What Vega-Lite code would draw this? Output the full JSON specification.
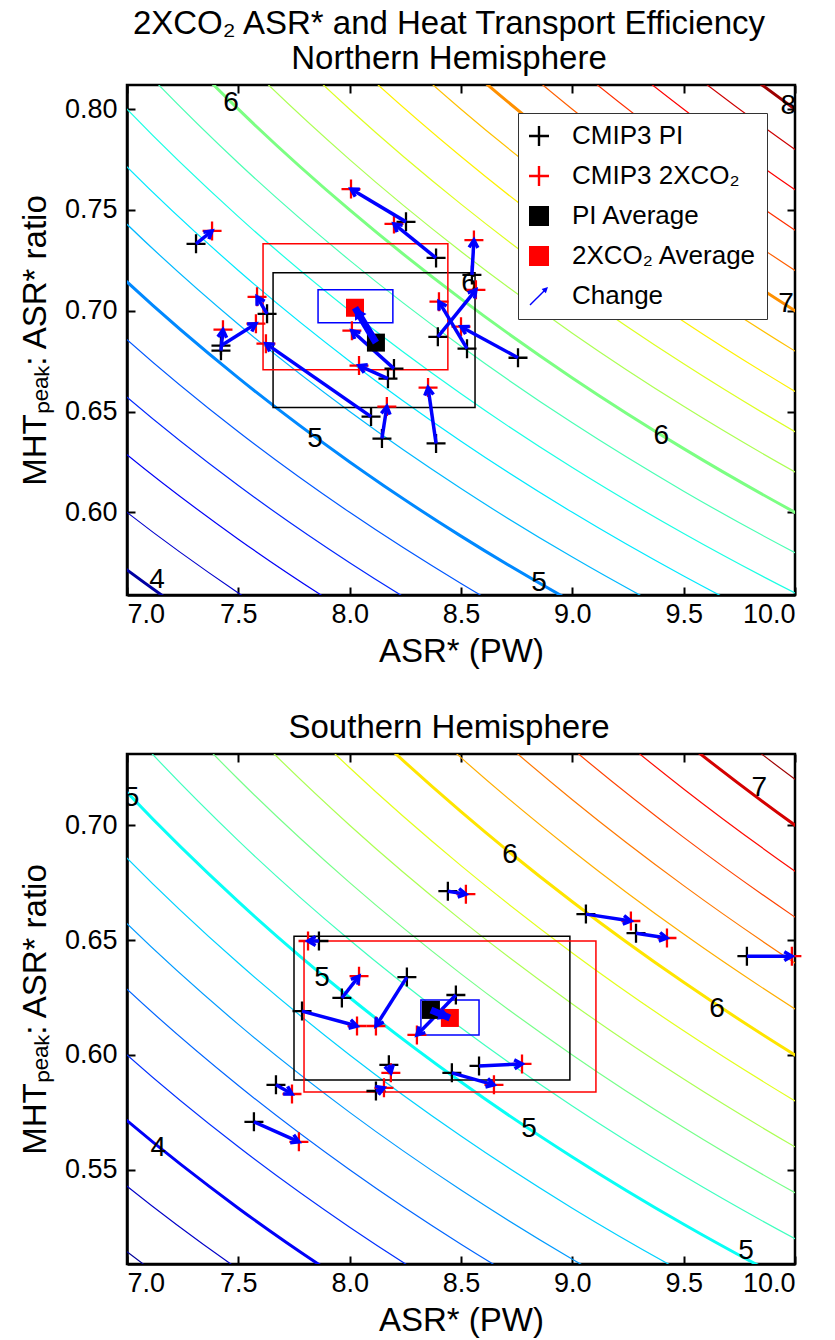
{
  "$schema": "https://vega.github.io/schema/vega-lite/v6.json",
  "padding": {"left": 18, "top": 6, "right": 10, "bottom": 2},
  "config": {
    "font": "Liberation Sans",
    "view": {"stroke": "black", "strokeWidth": 2.5},
    "axis": {"labelFontSize": 27, "titleFontSize": 33, "labelColor": "black", "titleColor": "black", "domainColor": "black", "domainWidth": 2.5, "tickColor": "black", "tickWidth": 2, "tickSize": -8, "grid": false, "labelFont": "Liberation Sans", "titleFont": "Liberation Sans", "titleFontWeight": "normal"},
    "title": {"fontSize": 33, "fontWeight": "normal", "font": "Liberation Sans", "color": "black"},
    "legend": {"orient": "top-right", "offset": 28, "labelFontSize": 26, "labelLimit": 400, "labelFont": "Liberation Sans", "labelColor": "black", "symbolSize": 400, "symbolStrokeWidth": 0, "symbolOpacity": 1, "fillColor": "white", "strokeColor": "#333333", "padding": 10, "rowPadding": 14, "labelOffset": 20, "symbolOffset": -2},
    "concat": {"spacing": 40}
  },
  "datasets": {
    "contours": [
      {"level":3.6,"x":6.5,"y":0.5538},{"level":3.6,"x":7,"y":0.5143},{"level":3.6,"x":7.5,"y":0.48},{"level":3.6,"x":8,"y":0.45},{"level":3.6,"x":8.5,"y":0.4235},{"level":3.6,"x":9,"y":0.4},{"level":3.6,"x":9.5,"y":0.3789},{"level":3.6,"x":10,"y":0.36},{"level":3.6,"x":10.5,"y":0.3429},
      {"level":3.8,"x":6.5,"y":0.5846},{"level":3.8,"x":7,"y":0.5429},{"level":3.8,"x":7.5,"y":0.5067},{"level":3.8,"x":8,"y":0.475},{"level":3.8,"x":8.5,"y":0.4471},{"level":3.8,"x":9,"y":0.4222},{"level":3.8,"x":9.5,"y":0.4},{"level":3.8,"x":10,"y":0.38},{"level":3.8,"x":10.5,"y":0.3619},
      {"level":4,"x":6.5,"y":0.6154},{"level":4,"x":7,"y":0.5714},{"level":4,"x":7.5,"y":0.5333},{"level":4,"x":8,"y":0.5},{"level":4,"x":8.5,"y":0.4706},{"level":4,"x":9,"y":0.4444},{"level":4,"x":9.5,"y":0.4211},{"level":4,"x":10,"y":0.4},{"level":4,"x":10.5,"y":0.381},
      {"level":4.2,"x":6.5,"y":0.6462},{"level":4.2,"x":7,"y":0.6},{"level":4.2,"x":7.5,"y":0.56},{"level":4.2,"x":8,"y":0.525},{"level":4.2,"x":8.5,"y":0.4941},{"level":4.2,"x":9,"y":0.4667},{"level":4.2,"x":9.5,"y":0.4421},{"level":4.2,"x":10,"y":0.42},{"level":4.2,"x":10.5,"y":0.4},
      {"level":4.4,"x":6.5,"y":0.6769},{"level":4.4,"x":7,"y":0.6286},{"level":4.4,"x":7.5,"y":0.5867},{"level":4.4,"x":8,"y":0.55},{"level":4.4,"x":8.5,"y":0.5176},{"level":4.4,"x":9,"y":0.4889},{"level":4.4,"x":9.5,"y":0.4632},{"level":4.4,"x":10,"y":0.44},{"level":4.4,"x":10.5,"y":0.419},
      {"level":4.6,"x":6.5,"y":0.7077},{"level":4.6,"x":7,"y":0.6571},{"level":4.6,"x":7.5,"y":0.6133},{"level":4.6,"x":8,"y":0.575},{"level":4.6,"x":8.5,"y":0.5412},{"level":4.6,"x":9,"y":0.5111},{"level":4.6,"x":9.5,"y":0.4842},{"level":4.6,"x":10,"y":0.46},{"level":4.6,"x":10.5,"y":0.4381},
      {"level":4.8,"x":6.5,"y":0.7385},{"level":4.8,"x":7,"y":0.6857},{"level":4.8,"x":7.5,"y":0.64},{"level":4.8,"x":8,"y":0.6},{"level":4.8,"x":8.5,"y":0.5647},{"level":4.8,"x":9,"y":0.5333},{"level":4.8,"x":9.5,"y":0.5053},{"level":4.8,"x":10,"y":0.48},{"level":4.8,"x":10.5,"y":0.4571},
      {"level":5,"x":6.5,"y":0.7692},{"level":5,"x":7,"y":0.7143},{"level":5,"x":7.5,"y":0.6667},{"level":5,"x":8,"y":0.625},{"level":5,"x":8.5,"y":0.5882},{"level":5,"x":9,"y":0.5556},{"level":5,"x":9.5,"y":0.5263},{"level":5,"x":10,"y":0.5},{"level":5,"x":10.5,"y":0.4762},
      {"level":5.2,"x":6.5,"y":0.8},{"level":5.2,"x":7,"y":0.7429},{"level":5.2,"x":7.5,"y":0.6933},{"level":5.2,"x":8,"y":0.65},{"level":5.2,"x":8.5,"y":0.6118},{"level":5.2,"x":9,"y":0.5778},{"level":5.2,"x":9.5,"y":0.5474},{"level":5.2,"x":10,"y":0.52},{"level":5.2,"x":10.5,"y":0.4952},
      {"level":5.4,"x":6.5,"y":0.8308},{"level":5.4,"x":7,"y":0.7714},{"level":5.4,"x":7.5,"y":0.72},{"level":5.4,"x":8,"y":0.675},{"level":5.4,"x":8.5,"y":0.6353},{"level":5.4,"x":9,"y":0.6},{"level":5.4,"x":9.5,"y":0.5684},{"level":5.4,"x":10,"y":0.54},{"level":5.4,"x":10.5,"y":0.5143},
      {"level":5.6,"x":6.5,"y":0.8615},{"level":5.6,"x":7,"y":0.8},{"level":5.6,"x":7.5,"y":0.7467},{"level":5.6,"x":8,"y":0.7},{"level":5.6,"x":8.5,"y":0.6588},{"level":5.6,"x":9,"y":0.6222},{"level":5.6,"x":9.5,"y":0.5895},{"level":5.6,"x":10,"y":0.56},{"level":5.6,"x":10.5,"y":0.5333},
      {"level":5.8,"x":6.5,"y":0.8923},{"level":5.8,"x":7,"y":0.8286},{"level":5.8,"x":7.5,"y":0.7733},{"level":5.8,"x":8,"y":0.725},{"level":5.8,"x":8.5,"y":0.6824},{"level":5.8,"x":9,"y":0.6444},{"level":5.8,"x":9.5,"y":0.6105},{"level":5.8,"x":10,"y":0.58},{"level":5.8,"x":10.5,"y":0.5524},
      {"level":6,"x":6.5,"y":0.9231},{"level":6,"x":7,"y":0.8571},{"level":6,"x":7.5,"y":0.8},{"level":6,"x":8,"y":0.75},{"level":6,"x":8.5,"y":0.7059},{"level":6,"x":9,"y":0.6667},{"level":6,"x":9.5,"y":0.6316},{"level":6,"x":10,"y":0.6},{"level":6,"x":10.5,"y":0.5714},
      {"level":6.2,"x":6.5,"y":0.9538},{"level":6.2,"x":7,"y":0.8857},{"level":6.2,"x":7.5,"y":0.8267},{"level":6.2,"x":8,"y":0.775},{"level":6.2,"x":8.5,"y":0.7294},{"level":6.2,"x":9,"y":0.6889},{"level":6.2,"x":9.5,"y":0.6526},{"level":6.2,"x":10,"y":0.62},{"level":6.2,"x":10.5,"y":0.5905},
      {"level":6.4,"x":6.5,"y":0.9846},{"level":6.4,"x":7,"y":0.9143},{"level":6.4,"x":7.5,"y":0.8533},{"level":6.4,"x":8,"y":0.8},{"level":6.4,"x":8.5,"y":0.7529},{"level":6.4,"x":9,"y":0.7111},{"level":6.4,"x":9.5,"y":0.6737},{"level":6.4,"x":10,"y":0.64},{"level":6.4,"x":10.5,"y":0.6095},
      {"level":6.6,"x":6.5,"y":1.0154},{"level":6.6,"x":7,"y":0.9429},{"level":6.6,"x":7.5,"y":0.88},{"level":6.6,"x":8,"y":0.825},{"level":6.6,"x":8.5,"y":0.7765},{"level":6.6,"x":9,"y":0.7333},{"level":6.6,"x":9.5,"y":0.6947},{"level":6.6,"x":10,"y":0.66},{"level":6.6,"x":10.5,"y":0.6286},
      {"level":6.8,"x":6.5,"y":1.0462},{"level":6.8,"x":7,"y":0.9714},{"level":6.8,"x":7.5,"y":0.9067},{"level":6.8,"x":8,"y":0.85},{"level":6.8,"x":8.5,"y":0.8},{"level":6.8,"x":9,"y":0.7556},{"level":6.8,"x":9.5,"y":0.7158},{"level":6.8,"x":10,"y":0.68},{"level":6.8,"x":10.5,"y":0.6476},
      {"level":7,"x":6.5,"y":1.0769},{"level":7,"x":7,"y":1.0},{"level":7,"x":7.5,"y":0.9333},{"level":7,"x":8,"y":0.875},{"level":7,"x":8.5,"y":0.8235},{"level":7,"x":9,"y":0.7778},{"level":7,"x":9.5,"y":0.7368},{"level":7,"x":10,"y":0.7},{"level":7,"x":10.5,"y":0.6667},
      {"level":7.2,"x":6.5,"y":1.1077},{"level":7.2,"x":7,"y":1.0286},{"level":7.2,"x":7.5,"y":0.96},{"level":7.2,"x":8,"y":0.9},{"level":7.2,"x":8.5,"y":0.8471},{"level":7.2,"x":9,"y":0.8},{"level":7.2,"x":9.5,"y":0.7579},{"level":7.2,"x":10,"y":0.72},{"level":7.2,"x":10.5,"y":0.6857},
      {"level":7.4,"x":6.5,"y":1.1385},{"level":7.4,"x":7,"y":1.0571},{"level":7.4,"x":7.5,"y":0.9867},{"level":7.4,"x":8,"y":0.925},{"level":7.4,"x":8.5,"y":0.8706},{"level":7.4,"x":9,"y":0.8222},{"level":7.4,"x":9.5,"y":0.7789},{"level":7.4,"x":10,"y":0.74},{"level":7.4,"x":10.5,"y":0.7048},
      {"level":7.6,"x":6.5,"y":1.1692},{"level":7.6,"x":7,"y":1.0857},{"level":7.6,"x":7.5,"y":1.0133},{"level":7.6,"x":8,"y":0.95},{"level":7.6,"x":8.5,"y":0.8941},{"level":7.6,"x":9,"y":0.8444},{"level":7.6,"x":9.5,"y":0.8},{"level":7.6,"x":10,"y":0.76},{"level":7.6,"x":10.5,"y":0.7238},
      {"level":7.8,"x":6.5,"y":1.2},{"level":7.8,"x":7,"y":1.1143},{"level":7.8,"x":7.5,"y":1.04},{"level":7.8,"x":8,"y":0.975},{"level":7.8,"x":8.5,"y":0.9176},{"level":7.8,"x":9,"y":0.8667},{"level":7.8,"x":9.5,"y":0.8211},{"level":7.8,"x":10,"y":0.78},{"level":7.8,"x":10.5,"y":0.7429},
      {"level":8,"x":6.5,"y":1.2308},{"level":8,"x":7,"y":1.1429},{"level":8,"x":7.5,"y":1.0667},{"level":8,"x":8,"y":1.0},{"level":8,"x":8.5,"y":0.9412},{"level":8,"x":9,"y":0.8889},{"level":8,"x":9.5,"y":0.8421},{"level":8,"x":10,"y":0.8},{"level":8,"x":10.5,"y":0.7619}
    ],
    "nh_lab": [
      {"t":"6","x":7.467,"y":0.803},{"t":"8","x":9.97,"y":0.8015},{"t":"7","x":9.96,"y":0.7035},{"t":"6","x":8.536,"y":0.7134},
      {"t":"6","x":9.40,"y":0.638},{"t":"5","x":7.844,"y":0.6366},{"t":"5","x":8.85,"y":0.5649},{"t":"4","x":7.135,"y":0.5665}
    ],
    "sh_lab": [
      {"t":"5","x":7.02,"y":0.7117},{"t":"6","x":8.72,"y":0.687},{"t":"7","x":9.84,"y":0.716},{"t":"6","x":9.65,"y":0.62},
      {"t":"5","x":7.876,"y":0.6335},{"t":"5","x":8.805,"y":0.5678},{"t":"5","x":9.78,"y":0.5145},{"t":"4","x":7.14,"y":0.5596}
    ],
    "nh_box": [
      {"box":"PI","x":7.656,"x2":8.563,"y":0.652,"y2":0.7188},
      {"box":"2X","x":7.611,"x2":8.441,"y":0.6708,"y2":0.7332},
      {"box":"chg","x":7.858,"x2":8.194,"y":0.694,"y2":0.7104}
    ],
    "sh_box": [
      {"box":"PI","x":7.750,"x2":8.989,"y":0.5891,"y2":0.6517},
      {"box":"2X","x":7.795,"x2":9.106,"y":0.5839,"y2":0.6496},
      {"box":"chg","x":8.320,"x2":8.581,"y":0.6087,"y2":0.6239}
    ],
    "nh_pts": [
      {"series":"CMIP3 PI","x":7.310,"y":0.7332},{"series":"CMIP3 PI","x":8.253,"y":0.7441},{"series":"CMIP3 PI","x":8.388,"y":0.7262},{"series":"CMIP3 PI","x":8.549,"y":0.7178},{"series":"CMIP3 PI","x":8.396,"y":0.6871},
      {"series":"CMIP3 PI","x":8.527,"y":0.6812},{"series":"CMIP3 PI","x":8.756,"y":0.6767},{"series":"CMIP3 PI","x":8.388,"y":0.6342},{"series":"CMIP3 PI","x":8.145,"y":0.6366},{"series":"CMIP3 PI","x":8.096,"y":0.6475},
      {"series":"CMIP3 PI","x":8.172,"y":0.6663},{"series":"CMIP3 PI","x":8.199,"y":0.6713},{"series":"CMIP3 PI","x":7.422,"y":0.6802},{"series":"CMIP3 PI","x":7.422,"y":0.6827},{"series":"CMIP3 PI","x":7.629,"y":0.6985},
      {"series":"CMIP3 2XCO₂","x":7.382,"y":0.7396},{"series":"CMIP3 2XCO₂","x":8.006,"y":0.7604},{"series":"CMIP3 2XCO₂","x":8.199,"y":0.7431},{"series":"CMIP3 2XCO₂","x":8.558,"y":0.7351},{"series":"CMIP3 2XCO₂","x":8.567,"y":0.7104},
      {"series":"CMIP3 2XCO₂","x":8.401,"y":0.7045},{"series":"CMIP3 2XCO₂","x":8.500,"y":0.6921},{"series":"CMIP3 2XCO₂","x":8.352,"y":0.6619},{"series":"CMIP3 2XCO₂","x":8.167,"y":0.6525},{"series":"CMIP3 2XCO₂","x":7.624,"y":0.6837},
      {"series":"CMIP3 2XCO₂","x":8.042,"y":0.6728},{"series":"CMIP3 2XCO₂","x":8.010,"y":0.6901},{"series":"CMIP3 2XCO₂","x":7.431,"y":0.6906},{"series":"CMIP3 2XCO₂","x":7.579,"y":0.6936},{"series":"CMIP3 2XCO₂","x":7.584,"y":0.7069},
      {"series":"PI Average","x":8.118,"y":0.6842},{"series":"2XCO₂ Average","x":8.024,"y":0.7015}
    ],
    "nh_arr": [
      {"x":7.310,"y":0.7332,"x2":7.382,"y2":0.7396},{"x":8.253,"y":0.7441,"x2":8.006,"y2":0.7604},{"x":8.388,"y":0.7262,"x2":8.199,"y2":0.7431},
      {"x":8.549,"y":0.7178,"x2":8.558,"y2":0.7351},{"x":8.396,"y":0.6871,"x2":8.567,"y2":0.7104},{"x":8.527,"y":0.6812,"x2":8.401,"y2":0.7045},
      {"x":8.756,"y":0.6767,"x2":8.500,"y2":0.6921},{"x":8.388,"y":0.6342,"x2":8.352,"y2":0.6619},{"x":8.145,"y":0.6366,"x2":8.167,"y2":0.6525},
      {"x":8.096,"y":0.6475,"x2":7.624,"y2":0.6837},{"x":8.172,"y":0.6663,"x2":8.042,"y2":0.6728},{"x":8.199,"y":0.6713,"x2":8.010,"y2":0.6901},
      {"x":7.422,"y":0.6802,"x2":7.431,"y2":0.6906},{"x":7.422,"y":0.6827,"x2":7.579,"y2":0.6936},{"x":7.629,"y":0.6985,"x2":7.584,"y2":0.7069}
    ],
    "nh_avgarr": [{"x":8.118,"y":0.6842,"x2":8.024,"y2":0.7015}],
    "sh_pts": [
      {"series":"CMIP3 PI","x":8.441,"y":0.6713},{"series":"CMIP3 PI","x":9.061,"y":0.6613},{"series":"CMIP3 PI","x":9.286,"y":0.6530},{"series":"CMIP3 PI","x":9.784,"y":0.6430},{"series":"CMIP3 PI","x":7.862,"y":0.6496},
      {"series":"CMIP3 PI","x":7.965,"y":0.6248},{"series":"CMIP3 PI","x":7.786,"y":0.6191},{"series":"CMIP3 PI","x":8.257,"y":0.6339},{"series":"CMIP3 PI","x":8.477,"y":0.6261},{"series":"CMIP3 PI","x":8.176,"y":0.5957},
      {"series":"CMIP3 PI","x":8.118,"y":0.5843},{"series":"CMIP3 PI","x":7.669,"y":0.5870},{"series":"CMIP3 PI","x":7.570,"y":0.5709},{"series":"CMIP3 PI","x":8.459,"y":0.5922},{"series":"CMIP3 PI","x":8.581,"y":0.5952},
      {"series":"CMIP3 2XCO₂","x":8.522,"y":0.6700},{"series":"CMIP3 2XCO₂","x":9.263,"y":0.6583},{"series":"CMIP3 2XCO₂","x":9.425,"y":0.6509},{"series":"CMIP3 2XCO₂","x":9.986,"y":0.6430},{"series":"CMIP3 2XCO₂","x":7.813,"y":0.6496},
      {"series":"CMIP3 2XCO₂","x":8.042,"y":0.6343},{"series":"CMIP3 2XCO₂","x":8.033,"y":0.6126},{"series":"CMIP3 2XCO₂","x":8.118,"y":0.6126},{"series":"CMIP3 2XCO₂","x":8.302,"y":0.6087},{"series":"CMIP3 2XCO₂","x":8.185,"y":0.5922},
      {"series":"CMIP3 2XCO₂","x":8.154,"y":0.5857},{"series":"CMIP3 2XCO₂","x":7.741,"y":0.5830},{"series":"CMIP3 2XCO₂","x":7.772,"y":0.5622},{"series":"CMIP3 2XCO₂","x":8.648,"y":0.5870},{"series":"CMIP3 2XCO₂","x":8.774,"y":0.5961},
      {"series":"PI Average","x":8.365,"y":0.6196},{"series":"2XCO₂ Average","x":8.450,"y":0.6161}
    ],
    "sh_arr": [
      {"x":8.441,"y":0.6713,"x2":8.522,"y2":0.6700},{"x":9.061,"y":0.6613,"x2":9.263,"y2":0.6583},{"x":9.286,"y":0.6530,"x2":9.425,"y2":0.6509},
      {"x":9.784,"y":0.6430,"x2":9.986,"y2":0.6430},{"x":7.862,"y":0.6496,"x2":7.813,"y2":0.6496},{"x":7.965,"y":0.6248,"x2":8.042,"y2":0.6343},
      {"x":7.786,"y":0.6191,"x2":8.033,"y2":0.6126},{"x":8.257,"y":0.6339,"x2":8.118,"y2":0.6126},{"x":8.477,"y":0.6261,"x2":8.302,"y2":0.6087},
      {"x":8.176,"y":0.5957,"x2":8.185,"y2":0.5922},{"x":8.118,"y":0.5843,"x2":8.154,"y2":0.5857},{"x":7.669,"y":0.5870,"x2":7.741,"y2":0.5830},
      {"x":7.570,"y":0.5709,"x2":7.772,"y2":0.5622},{"x":8.459,"y":0.5922,"x2":8.648,"y2":0.5870},{"x":8.581,"y":0.5952,"x2":8.774,"y2":0.5961}
    ],
    "sh_avgarr": [{"x":8.365,"y":0.6196,"x2":8.450,"y2":0.6161}]
  },
  "vconcat": [
    {
      "width": 668,
      "height": 510,
      "title": {"text": ["2XCO₂ ASR* and Heat Transport Efficiency", "Northern Hemisphere"], "offset": 8, "lineHeight": 35, "dx": -12},
      "resolve": {"axis": {"x": "independent", "y": "independent"}},
      "layer": [
        {
          "data": {"name": "contours"},
          "mark": {"type": "line", "clip": true, "strokeWidth": 1.2, "interpolate": "monotone"},
          "encoding": {
            "x": {"field": "x", "type": "quantitative", "scale": {"domain": [7, 10], "nice": false, "zero": false}, "axis": {"orient": "bottom", "values": [7, 7.5, 8, 8.5, 9, 9.5, 10], "format": ".1f", "title": "ASR* (PW)", "labelPadding": 14, "titlePadding": 8}},
            "y": {"field": "y", "type": "quantitative", "scale": {"domain": [0.559, 0.812], "nice": false, "zero": false}, "axis": {"orient": "left", "values": [0.6, 0.65, 0.7, 0.75, 0.8], "format": ".2f", "title": "MHTₚₑₐₖ: ASR* ratio", "labelPadding": 18, "titlePadding": 12}},
            "stroke": {"field": "level", "type": "quantitative", "scale": {"type": "linear", "domain": [3.91, 4.436, 5.489, 6.541, 7.594, 8.12], "range": ["#00008f", "#0000ff", "#00ffff", "#ffff00", "#ff0000", "#800000"], "interpolate": "rgb", "clamp": true}, "legend": null},
            "detail": {"field": "level", "type": "nominal"}
          }
        },
        {
          "data": {"name": "contours"},
          "transform": [{"filter": {"field": "level", "oneOf": [4, 5, 6, 7, 8]}}],
          "mark": {"type": "line", "clip": true, "strokeWidth": 3, "interpolate": "monotone"},
          "encoding": {
            "x": {"field": "x", "type": "quantitative", "axis": null},
            "y": {"field": "y", "type": "quantitative", "axis": null},
            "stroke": {"field": "level", "type": "quantitative", "legend": null},
            "detail": {"field": "level", "type": "nominal"}
          }
        },
        {
          "data": {"name": "nh_lab"},
          "mark": {"type": "text", "fontSize": 28, "color": "black", "clip": true, "baseline": "middle", "align": "center"},
          "encoding": {
            "x": {"field": "x", "type": "quantitative", "axis": null},
            "y": {"field": "y", "type": "quantitative", "axis": null},
            "text": {"field": "t", "type": "nominal"}
          }
        },
        {
          "data": {"name": "nh_box"},
          "transform": [{"filter": "datum.box == 'PI'"}],
          "mark": {"type": "rect", "filled": false, "color": "black", "strokeWidth": 1.5},
          "encoding": {
            "x": {"field": "x", "type": "quantitative", "axis": {"orient": "top", "values": [7, 7.5, 8, 8.5, 9, 9.5, 10], "labels": false, "title": null, "domain": false}},
            "x2": {"field": "x2"},
            "y": {"field": "y", "type": "quantitative", "axis": {"orient": "right", "values": [0.6, 0.65, 0.7, 0.75, 0.8], "labels": false, "title": null, "domain": false}},
            "y2": {"field": "y2"}
          }
        },
        {
          "data": {"name": "nh_box"},
          "transform": [{"filter": "datum.box == '2X'"}],
          "mark": {"type": "rect", "filled": false, "color": "red", "strokeWidth": 1.5},
          "encoding": {
            "x": {"field": "x", "type": "quantitative", "axis": null},
            "x2": {"field": "x2"},
            "y": {"field": "y", "type": "quantitative", "axis": null},
            "y2": {"field": "y2"}
          }
        },
        {
          "data": {"name": "nh_box"},
          "transform": [{"filter": "datum.box == 'chg'"}],
          "mark": {"type": "rect", "filled": false, "color": "blue", "strokeWidth": 1.5},
          "encoding": {
            "x": {"field": "x", "type": "quantitative", "axis": null},
            "x2": {"field": "x2"},
            "y": {"field": "y", "type": "quantitative", "axis": null},
            "y2": {"field": "y2"}
          }
        },
        {
          "data": {"name": "nh_pts"},
          "transform": [{"filter": {"field": "series", "oneOf": ["CMIP3 PI", "CMIP3 2XCO₂"]}}],
          "mark": {"type": "point", "filled": true, "opacity": 1, "size": 361},
          "encoding": {
            "x": {"field": "x", "type": "quantitative", "axis": null},
            "y": {"field": "y", "type": "quantitative", "axis": null},
            "color": {"field": "series", "type": "nominal", "title": null, "scale": {"domain": ["CMIP3 PI", "CMIP3 2XCO₂", "PI Average", "2XCO₂ Average", "Change"], "range": ["black", "red", "black", "red", "blue"]}},
            "shape": {"field": "series", "type": "nominal", "title": null, "scale": {"domain": ["CMIP3 PI", "CMIP3 2XCO₂", "PI Average", "2XCO₂ Average", "Change"], "range": ["M-1,-0.12H-0.12V-1H0.12V-0.12H1V0.12H0.12V1H-0.12V0.12H-1Z", "M-1,-0.12H-0.12V-1H0.12V-0.12H1V0.12H0.12V1H-0.12V0.12H-1Z", "square", "square", "M-0.85,0.95L0.526,-0.426L0.688,-0.264L0.9,-0.9L0.264,-0.688L0.426,-0.526L-0.95,0.85Z"]}}
          }
        },
        {
          "data": {"name": "nh_arr"},
          "mark": {"type": "rule", "color": "blue", "strokeWidth": 3.5},
          "encoding": {
            "x": {"field": "x", "type": "quantitative", "axis": null},
            "y": {"field": "y", "type": "quantitative", "axis": null},
            "x2": {"field": "x2"},
            "y2": {"field": "y2"}
          }
        },
        {
          "data": {"name": "nh_arr"},
          "transform": [{"calculate": "atan2((datum.x2-datum.x)*222.7,(datum.y2-datum.y)*2020)*180/PI", "as": "ang"}],
          "mark": {"type": "point", "filled": false, "color": "blue", "strokeWidth": 3.5, "opacity": 1, "size": 256, "shape": "M-0.55,0.95L0,0L0.55,0.95"},
          "encoding": {
            "x": {"field": "x2", "type": "quantitative", "axis": null},
            "y": {"field": "y2", "type": "quantitative", "axis": null},
            "angle": {"field": "ang", "type": "quantitative", "scale": null}
          }
        },
        {
          "data": {"name": "nh_pts"},
          "transform": [{"filter": {"field": "series", "oneOf": ["PI Average", "2XCO₂ Average"]}}],
          "mark": {"type": "point", "filled": true, "opacity": 1, "size": 324},
          "encoding": {
            "x": {"field": "x", "type": "quantitative", "axis": null},
            "y": {"field": "y", "type": "quantitative", "axis": null},
            "color": {"field": "series", "type": "nominal", "title": null, "scale": {"domain": ["CMIP3 PI", "CMIP3 2XCO₂", "PI Average", "2XCO₂ Average", "Change"], "range": ["black", "red", "black", "red", "blue"]}},
            "shape": {"field": "series", "type": "nominal", "title": null, "scale": {"domain": ["CMIP3 PI", "CMIP3 2XCO₂", "PI Average", "2XCO₂ Average", "Change"], "range": ["M-1,-0.12H-0.12V-1H0.12V-0.12H1V0.12H0.12V1H-0.12V0.12H-1Z", "M-1,-0.12H-0.12V-1H0.12V-0.12H1V0.12H0.12V1H-0.12V0.12H-1Z", "square", "square", "M-0.85,0.95L0.526,-0.426L0.688,-0.264L0.9,-0.9L0.264,-0.688L0.426,-0.526L-0.95,0.85Z"]}}
          }
        },
        {
          "data": {"name": "nh_avgarr"},
          "mark": {"type": "rule", "color": "blue", "strokeWidth": 7},
          "encoding": {
            "x": {"field": "x", "type": "quantitative", "axis": null},
            "y": {"field": "y", "type": "quantitative", "axis": null},
            "x2": {"field": "x2"},
            "y2": {"field": "y2"}
          }
        },
        {
          "data": {"name": "nh_avgarr"},
          "transform": [{"calculate": "atan2((datum.x2-datum.x)*222.7,(datum.y2-datum.y)*2020)*180/PI", "as": "ang"}],
          "mark": {"type": "point", "filled": true, "color": "blue", "opacity": 1, "size": 500, "shape": "M-0.6,1L0,0L0.6,1Z"},
          "encoding": {
            "x": {"field": "x2", "type": "quantitative", "axis": null},
            "y": {"field": "y2", "type": "quantitative", "axis": null},
            "angle": {"field": "ang", "type": "quantitative", "scale": null}
          }
        }
      ]
    },
    {
      "width": 668,
      "height": 510,
      "title": {"text": "Southern Hemisphere", "offset": 8, "dx": -12},
      "resolve": {"axis": {"x": "independent", "y": "independent"}},
      "layer": [
        {
          "data": {"name": "contours"},
          "mark": {"type": "line", "clip": true, "strokeWidth": 1.2, "interpolate": "monotone"},
          "encoding": {
            "x": {"field": "x", "type": "quantitative", "scale": {"domain": [7, 10], "nice": false, "zero": false}, "axis": {"orient": "bottom", "values": [7, 7.5, 8, 8.5, 9, 9.5, 10], "format": ".1f", "title": "ASR* (PW)", "labelPadding": 14, "titlePadding": 8}},
            "y": {"field": "y", "type": "quantitative", "scale": {"domain": [0.509, 0.731], "nice": false, "zero": false}, "axis": {"orient": "left", "values": [0.55, 0.6, 0.65, 0.7], "format": ".2f", "title": "MHTₚₑₐₖ: ASR* ratio", "labelPadding": 18, "titlePadding": 12}},
            "stroke": {"field": "level", "type": "quantitative", "scale": {"type": "linear", "domain": [3.56, 4.029, 4.966, 5.904, 6.841, 7.31], "range": ["#00008f", "#0000ff", "#00ffff", "#ffff00", "#ff0000", "#800000"], "interpolate": "rgb", "clamp": true}, "legend": null},
            "detail": {"field": "level", "type": "nominal"}
          }
        },
        {
          "data": {"name": "contours"},
          "transform": [{"filter": {"field": "level", "oneOf": [4, 5, 6, 7, 8]}}],
          "mark": {"type": "line", "clip": true, "strokeWidth": 3, "interpolate": "monotone"},
          "encoding": {
            "x": {"field": "x", "type": "quantitative", "axis": null},
            "y": {"field": "y", "type": "quantitative", "axis": null},
            "stroke": {"field": "level", "type": "quantitative", "legend": null},
            "detail": {"field": "level", "type": "nominal"}
          }
        },
        {
          "data": {"name": "sh_lab"},
          "mark": {"type": "text", "fontSize": 28, "color": "black", "clip": true, "baseline": "middle", "align": "center"},
          "encoding": {
            "x": {"field": "x", "type": "quantitative", "axis": null},
            "y": {"field": "y", "type": "quantitative", "axis": null},
            "text": {"field": "t", "type": "nominal"}
          }
        },
        {
          "data": {"name": "sh_box"},
          "transform": [{"filter": "datum.box == 'PI'"}],
          "mark": {"type": "rect", "filled": false, "color": "black", "strokeWidth": 1.5},
          "encoding": {
            "x": {"field": "x", "type": "quantitative", "axis": {"orient": "top", "values": [7, 7.5, 8, 8.5, 9, 9.5, 10], "labels": false, "title": null, "domain": false}},
            "x2": {"field": "x2"},
            "y": {"field": "y", "type": "quantitative", "axis": {"orient": "right", "values": [0.55, 0.6, 0.65, 0.7], "labels": false, "title": null, "domain": false}},
            "y2": {"field": "y2"}
          }
        },
        {
          "data": {"name": "sh_box"},
          "transform": [{"filter": "datum.box == '2X'"}],
          "mark": {"type": "rect", "filled": false, "color": "red", "strokeWidth": 1.5},
          "encoding": {
            "x": {"field": "x", "type": "quantitative", "axis": null},
            "x2": {"field": "x2"},
            "y": {"field": "y", "type": "quantitative", "axis": null},
            "y2": {"field": "y2"}
          }
        },
        {
          "data": {"name": "sh_box"},
          "transform": [{"filter": "datum.box == 'chg'"}],
          "mark": {"type": "rect", "filled": false, "color": "blue", "strokeWidth": 1.5},
          "encoding": {
            "x": {"field": "x", "type": "quantitative", "axis": null},
            "x2": {"field": "x2"},
            "y": {"field": "y", "type": "quantitative", "axis": null},
            "y2": {"field": "y2"}
          }
        },
        {
          "data": {"name": "sh_pts"},
          "transform": [{"filter": {"field": "series", "oneOf": ["CMIP3 PI", "CMIP3 2XCO₂"]}}],
          "mark": {"type": "point", "filled": true, "opacity": 1, "size": 361},
          "encoding": {
            "x": {"field": "x", "type": "quantitative", "axis": null},
            "y": {"field": "y", "type": "quantitative", "axis": null},
            "color": {"field": "series", "type": "nominal", "legend": null, "scale": {"domain": ["CMIP3 PI", "CMIP3 2XCO₂", "PI Average", "2XCO₂ Average", "Change"], "range": ["black", "red", "black", "red", "blue"]}},
            "shape": {"field": "series", "type": "nominal", "legend": null, "scale": {"domain": ["CMIP3 PI", "CMIP3 2XCO₂", "PI Average", "2XCO₂ Average", "Change"], "range": ["M-1,-0.12H-0.12V-1H0.12V-0.12H1V0.12H0.12V1H-0.12V0.12H-1Z", "M-1,-0.12H-0.12V-1H0.12V-0.12H1V0.12H0.12V1H-0.12V0.12H-1Z", "square", "square", "M-0.85,0.95L0.526,-0.426L0.688,-0.264L0.9,-0.9L0.264,-0.688L0.426,-0.526L-0.95,0.85Z"]}}
          }
        },
        {
          "data": {"name": "sh_arr"},
          "mark": {"type": "rule", "color": "blue", "strokeWidth": 3.5},
          "encoding": {
            "x": {"field": "x", "type": "quantitative", "axis": null},
            "y": {"field": "y", "type": "quantitative", "axis": null},
            "x2": {"field": "x2"},
            "y2": {"field": "y2"}
          }
        },
        {
          "data": {"name": "sh_arr"},
          "transform": [{"calculate": "atan2((datum.x2-datum.x)*222.7,(datum.y2-datum.y)*2300)*180/PI", "as": "ang"}],
          "mark": {"type": "point", "filled": false, "color": "blue", "strokeWidth": 3.5, "opacity": 1, "size": 256, "shape": "M-0.55,0.95L0,0L0.55,0.95"},
          "encoding": {
            "x": {"field": "x2", "type": "quantitative", "axis": null},
            "y": {"field": "y2", "type": "quantitative", "axis": null},
            "angle": {"field": "ang", "type": "quantitative", "scale": null}
          }
        },
        {
          "data": {"name": "sh_pts"},
          "transform": [{"filter": {"field": "series", "oneOf": ["PI Average", "2XCO₂ Average"]}}],
          "mark": {"type": "point", "filled": true, "opacity": 1, "size": 324},
          "encoding": {
            "x": {"field": "x", "type": "quantitative", "axis": null},
            "y": {"field": "y", "type": "quantitative", "axis": null},
            "color": {"field": "series", "type": "nominal", "legend": null, "scale": {"domain": ["CMIP3 PI", "CMIP3 2XCO₂", "PI Average", "2XCO₂ Average", "Change"], "range": ["black", "red", "black", "red", "blue"]}},
            "shape": {"field": "series", "type": "nominal", "legend": null, "scale": {"domain": ["CMIP3 PI", "CMIP3 2XCO₂", "PI Average", "2XCO₂ Average", "Change"], "range": ["M-1,-0.12H-0.12V-1H0.12V-0.12H1V0.12H0.12V1H-0.12V0.12H-1Z", "M-1,-0.12H-0.12V-1H0.12V-0.12H1V0.12H0.12V1H-0.12V0.12H-1Z", "square", "square", "M-0.85,0.95L0.526,-0.426L0.688,-0.264L0.9,-0.9L0.264,-0.688L0.426,-0.526L-0.95,0.85Z"]}}
          }
        },
        {
          "data": {"name": "sh_avgarr"},
          "mark": {"type": "rule", "color": "blue", "strokeWidth": 7},
          "encoding": {
            "x": {"field": "x", "type": "quantitative", "axis": null},
            "y": {"field": "y", "type": "quantitative", "axis": null},
            "x2": {"field": "x2"},
            "y2": {"field": "y2"}
          }
        },
        {
          "data": {"name": "sh_avgarr"},
          "transform": [{"calculate": "atan2((datum.x2-datum.x)*222.7,(datum.y2-datum.y)*2300)*180/PI", "as": "ang"}],
          "mark": {"type": "point", "filled": true, "color": "blue", "opacity": 1, "size": 500, "shape": "M-0.6,1L0,0L0.6,1Z"},
          "encoding": {
            "x": {"field": "x2", "type": "quantitative", "axis": null},
            "y": {"field": "y2", "type": "quantitative", "axis": null},
            "angle": {"field": "ang", "type": "quantitative", "scale": null}
          }
        }
      ]
    }
  ],
  "resolve": {
    "scale": {"x": "independent", "y": "independent", "stroke": "independent", "color": "independent", "shape": "independent"},
    "legend": {"color": "independent", "shape": "independent"}
  }
}
